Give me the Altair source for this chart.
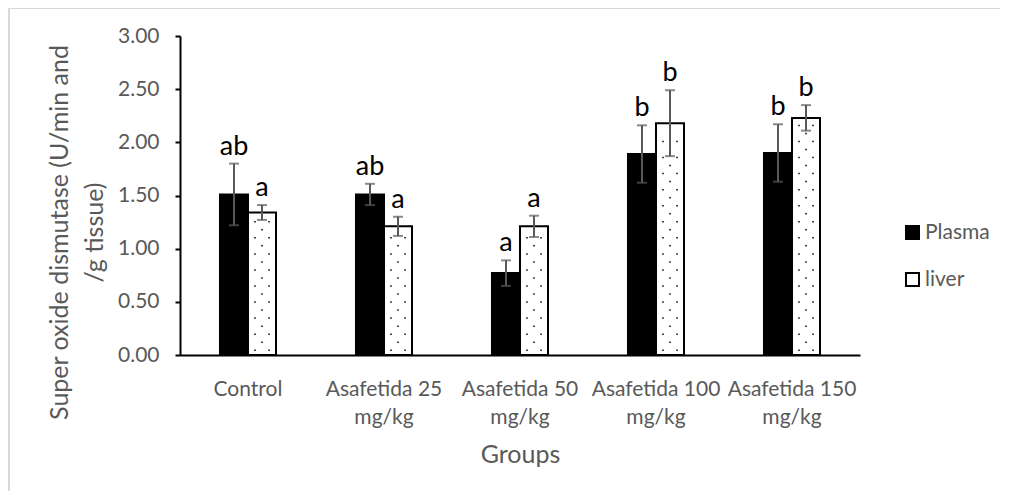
import altair as alt
import pandas as pd

groups = ["Control", "Asafetida 25\nmg/kg", "Asafetida 50\nmg/kg",
          "Asafetida 100\nmg/kg", "Asafetida 150\nmg/kg"]
series = ["Plasma", "liver"]
plasma = [1.51, 1.51, 0.77, 1.89, 1.90]
plasma_sd = [0.29, 0.10, 0.12, 0.27, 0.27]
liver = [1.34, 1.21, 1.21, 2.18, 2.23]
liver_sd = [0.07, 0.09, 0.10, 0.31, 0.12]
plasma_letters = ["ab", "ab", "a", "b", "b"]
liver_letters = ["a", "a", "a", "b", "b"]
y_ticks = [0, 0.5, 1.0, 1.5, 2.0, 2.5, 3.0]

rows = []
for i, g in enumerate(groups):
    rows.append(dict(group=g, series="Plasma", value=plasma[i], sd=plasma_sd[i],
                     lo=plasma[i] - plasma_sd[i], hi=plasma[i] + plasma_sd[i], letter=plasma_letters[i]))
    rows.append(dict(group=g, series="liver", value=liver[i], sd=liver_sd[i],
                     lo=liver[i] - liver_sd[i], hi=liver[i] + liver_sd[i], letter=liver_letters[i]))
df = pd.DataFrame(rows)

# dotted texture of the liver bars (pattern fill)
dots = []
step = 0.0755
for i, g in enumerate(groups):
    k = 0
    y = 0.045
    while y < liver[i] - 0.03:
        dots.append(dict(group=g, series="liver", y=y, parity=k % 2))
        k += 1
        y += step
dots_df = pd.DataFrame(dots)

FONT = "Lato"
GRAY = "#595959"

xscale = alt.Scale(domain=groups, paddingInner=0.588, paddingOuter=0.294)
xoscale = alt.Scale(domain=series, paddingInner=0, paddingOuter=0)

xenc = alt.X("group:N", sort=groups, title="Groups", scale=xscale,
             axis=alt.Axis(labelExpr="split(datum.value, '\\n')", labelAngle=0,
                           labelLineHeight=28, labelPadding=40, labelBaseline="alphabetic",
                           labelFontSize=21, labelOverlap=False,
                           labelColor=GRAY, labelFont=FONT, ticks=False,
                           domainColor="black", domainWidth=2,
                           titleFontSize=25, titleColor=GRAY, titleFont=FONT,
                           titleFontWeight="normal", titleY=99, titleX=340,
                           titleBaseline="middle", titleAlign="center"))
xoff = alt.XOffset("series:N", sort=series, scale=xoscale)
yscale = alt.Scale(domain=[0, 3], nice=False)

base = alt.Chart(df)

bars = base.mark_bar(stroke="black", strokeWidth=2).encode(
    x=xenc,
    xOffset=xoff,
    y=alt.Y("value:Q", scale=yscale,
            title=["Super oxide dismutase (U/min and", "/g tissue)"],
            axis=alt.Axis(values=y_ticks, format=".2f", grid=False,
                          labelFontSize=21, labelColor=GRAY, labelFont=FONT,
                          labelPadding=16, tickColor="black", tickWidth=2, tickSize=5,
                          domainColor="black", domainWidth=2,
                          titleFontSize=25, titleColor=GRAY, titleFont=FONT,
                          titleFontWeight="normal", titleLineHeight=35,
                          titleX=-121, titleY=196, titleAngle=-90,
                          titleBaseline="middle", titleAlign="center")),
    fill=alt.Fill("series:N", sort=series,
                  scale=alt.Scale(domain=series, range=["black", "white"]),
                  legend=alt.Legend(title=None, orient="none", legendX=722, legendY=186,
                                    symbolType="square", symbolSize=169,
                                    symbolStrokeColor="black", symbolStrokeWidth=2,
                                    labelFontSize=21, labelColor=GRAY, labelFont=FONT,
                                    labelOffset=2, rowPadding=25, padding=0)),
)

# two-dot and one-dot glyphs (path units scaled by sqrt(size)/2 = 7 px)
PAIR = "M-1.107,-0.107h0.214v0.214h-0.214z M0.893,-0.107h0.214v0.214h-0.214z"
SINGLE = "M-0.107,-0.107h0.214v0.214h-0.214z"
dot_base = alt.Chart(dots_df)
dot_enc = dict(x=alt.X("group:N", sort=groups, scale=xscale),
               xOffset=alt.XOffset("series:N", sort=series, scale=xoscale),
               y=alt.Y("y:Q", scale=yscale))
dots_even = dot_base.mark_point(shape=PAIR, size=196, filled=True, color="black",
                                opacity=1, strokeWidth=0).encode(**dot_enc).transform_filter("datum.parity == 0")
dots_odd = dot_base.mark_point(shape=SINGLE, size=196, filled=True, color="black",
                               opacity=1, strokeWidth=0).encode(**dot_enc).transform_filter("datum.parity == 1")

pos = dict(x=alt.X("group:N", sort=groups, scale=xscale),
           xOffset=alt.XOffset("series:N", sort=series, scale=xoscale))

err = base.mark_rule(color=GRAY, strokeWidth=2).encode(
    y=alt.Y("lo:Q", scale=yscale), y2="hi:Q", **pos)
cap_hi = base.mark_tick(color=GRAY, thickness=2, size=10).encode(
    y=alt.Y("hi:Q", scale=yscale), **pos)
cap_lo = base.mark_tick(color=GRAY, thickness=2, size=10).encode(
    y=alt.Y("lo:Q", scale=yscale), **pos)
letters = base.mark_text(baseline="alphabetic", dy=-9, fontSize=27, font=FONT, color="black").encode(
    y=alt.Y("hi:Q", scale=yscale), text="letter:N", **pos)

frame_top = alt.Chart(pd.DataFrame({"a": [0]})).mark_rule(color="#d9d9d9", strokeWidth=2).encode(
    x=alt.value(-171), x2=alt.value(822), y=alt.value(-28))
frame_left = alt.Chart(pd.DataFrame({"a": [0]})).mark_rule(color="#d9d9d9", strokeWidth=2).encode(
    x=alt.value(-171), y=alt.value(-28), y2=alt.value(455))

chart = alt.layer(bars, dots_even, dots_odd, err, cap_hi, cap_lo, letters, frame_top, frame_left).properties(
    width=680, height=319,
    autosize=alt.AutoSizeParams(type="none"),
    padding={"left": 172, "top": 28, "right": 140, "bottom": 136},
).configure_view(stroke=None)

chart.save("out.html", embed_options={"renderer": "svg", "actions": False})
